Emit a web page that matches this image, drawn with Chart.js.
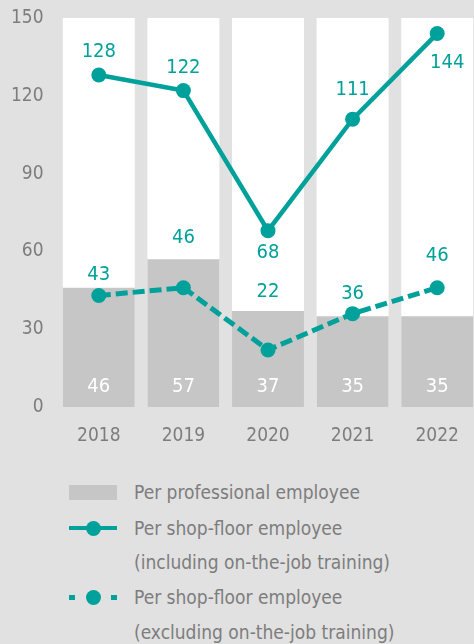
<!DOCTYPE html>
<html>
<head>
<meta charset="utf-8">
<script src="https://cdn.jsdelivr.net/npm/chart.js@4/dist/chart.umd.min.js"></script>
<style>
  html, body { margin: 0; padding: 0; background: #e1e1e1; width: 474px; height: 644px; overflow: hidden; }
  #wrap { position: relative; width: 474px; height: 644px; overflow: hidden; }
  #c { position: absolute; left: 0; top: 0; }
  .lg { position: absolute; left: 0; top: 0; font-family: "DejaVu Sans Condensed", "DejaVu Sans", sans-serif; font-stretch: condensed; font-size: 19px; color: #7d7d7d; }
  .row { position: absolute; left: 134px; height: 24px; line-height: 24px; white-space: nowrap; }
  .ico { position: absolute; }
</style>
</head>
<body>
<div id="wrap">
  <canvas id="c" width="487" height="447"></canvas>
  <div class="lg" id="legend"></div>
</div>
<script>
const categories = ["2018", "2019", "2020", "2021", "2022"];
const perProfessional = [46, 57, 37, 35, 35];
const perShopFloorIncl = [128, 122, 68, 111, 144];
const perShopFloorExcl = [43, 46, 22, 36, 46];
const yTicks = [0, 30, 60, 90, 120, 150];
const seriesNames = [
  "Per professional employee",
  ["Per shop-floor employee", "(including on-the-job training)"],
  ["Per shop-floor employee", "(excluding on-the-job training)"]
];

// label placement (pixel offsets from the point, style only)
const inclLabelOffsets = [[0, -23], [0, -23], [0, 22], [0, -29], [10, 29]];
const exclLabelOffsets = [[0, -21], [0, -50], [0, -58], [0, -20], [0, -32]];

const TEAL = "#00a19a";
const BAR = "#c6c6c6";
const TXT = "#7d7d7d";
const FONT = '"DejaVu Sans Condensed", "DejaVu Sans", sans-serif';

const bandPlugin = {
  id: "bands",
  beforeDatasetsDraw(chart) {
    const ctx = chart.ctx;
    const meta = chart.getDatasetMeta(0);
    const area = chart.chartArea;
    const yTop = chart.scales.y.getPixelForValue(150);
    ctx.save();
    ctx.fillStyle = "#ffffff";
    meta.data.forEach(bar => {
      const w = bar.width;
      ctx.fillRect(bar.x - w / 2, yTop, w, area.bottom - yTop);
    });
    ctx.restore();
  }
};

const labelPlugin = {
  id: "valueLabels",
  afterDatasetsDraw(chart) {
    const ctx = chart.ctx;
    ctx.save();
    ctx.textAlign = "center";
    ctx.textBaseline = "middle";
    ctx.font = "20px " + FONT;
    const base = chart.scales.y.getPixelForValue(0);
    chart.getDatasetMeta(0).data.forEach((el, i) => {
      ctx.fillStyle = "#ffffff";
      ctx.fillText(String(perProfessional[i]), el.x, base - 20);
    });
    const draw = (dsIndex, values, offsets) => {
      chart.getDatasetMeta(dsIndex).data.forEach((el, i) => {
        ctx.fillStyle = TEAL;
        ctx.fillText(String(values[i]), el.x + offsets[i][0], el.y + offsets[i][1]);
      });
    };
    draw(1, perShopFloorIncl, inclLabelOffsets);
    draw(2, perShopFloorExcl, exclLabelOffsets);
    ctx.restore();
  }
};

function noPad(scale) {
  scale.paddingTop = 0; scale.paddingBottom = 0;
  scale.paddingLeft = 0; scale.paddingRight = 0;
}

new Chart(document.getElementById("c"), {
  data: {
    labels: categories,
    datasets: [
      {
        type: "bar",
        label: seriesNames[0],
        data: perProfessional,
        backgroundColor: BAR,
        borderWidth: 0,
        categoryPercentage: 1,
        barPercentage: 0.85,
        order: 2
      },
      {
        type: "line",
        label: seriesNames[1].join(" "),
        data: perShopFloorIncl,
        borderColor: TEAL,
        backgroundColor: TEAL,
        borderWidth: 4.5,
        pointRadius: 7.5,
        pointHoverRadius: 7.5,
        pointBorderWidth: 0,
        tension: 0,
        order: 0
      },
      {
        type: "line",
        label: seriesNames[2].join(" "),
        data: perShopFloorExcl,
        borderColor: TEAL,
        backgroundColor: TEAL,
        borderWidth: 5,
        borderDash: [12, 5],
        pointRadius: 7.5,
        pointHoverRadius: 7.5,
        pointBorderWidth: 0,
        tension: 0,
        order: 1
      }
    ]
  },
  options: {
    responsive: false,
    animation: false,
    layout: { padding: { top: 18, right: 0, bottom: 0, left: 0 } },
    plugins: { legend: { display: false }, tooltip: { enabled: false } },
    scales: {
      x: {
        afterFit(scale) { scale.height = 40; noPad(scale); },
        grid: { display: false, drawTicks: false },
        border: { display: false },
        ticks: { color: TXT, font: { family: FONT, size: 19 }, padding: 18 }
      },
      y: {
        min: 0,
        max: 150,
        afterFit(scale) { scale.width = 56.5; noPad(scale); },
        afterBuildTicks(scale) { scale.ticks = yTicks.map(v => ({ value: v })); },
        grid: { display: false, drawTicks: false },
        border: { display: false },
        ticks: { color: TXT, font: { family: FONT, size: 19 }, padding: 13 }
      }
    }
  },
  plugins: [bandPlugin, labelPlugin]
});

// HTML legend
(function () {
  const lg = document.getElementById("legend");
  const rowsY = [492, 528, 562, 597, 632];
  let html = "";
  html += '<div class="ico" style="left:69px;top:' + (rowsY[0] - 7.5) + 'px;width:48px;height:15px;background:' + BAR + '"></div>';
  html += '<div class="row" style="top:' + (rowsY[0] - 12) + 'px">' + seriesNames[0] + '</div>';
  html += '<div class="ico" style="left:69px;top:' + (rowsY[1] - 2.25) + 'px;width:48px;height:4.5px;background:' + TEAL + '"></div>';
  html += '<div class="ico" style="left:85.5px;top:' + (rowsY[1] - 7.5) + 'px;width:15px;height:15px;border-radius:50%;background:' + TEAL + '"></div>';
  html += '<div class="row" style="top:' + (rowsY[1] - 12) + 'px">' + seriesNames[1][0] + '</div>';
  html += '<div class="row" style="top:' + (rowsY[2] - 12) + 'px">' + seriesNames[1][1] + '</div>';
  html += '<div class="ico" style="left:69px;top:' + (rowsY[3] - 2.5) + 'px;width:6px;height:5px;background:' + TEAL + '"></div>';
  html += '<div class="ico" style="left:111px;top:' + (rowsY[3] - 2.5) + 'px;width:6px;height:5px;background:' + TEAL + '"></div>';
  html += '<div class="ico" style="left:85.5px;top:' + (rowsY[3] - 7.5) + 'px;width:15px;height:15px;border-radius:50%;background:' + TEAL + '"></div>';
  html += '<div class="row" style="top:' + (rowsY[3] - 12) + 'px">' + seriesNames[2][0] + '</div>';
  html += '<div class="row" style="top:' + (rowsY[4] - 12) + 'px">' + seriesNames[2][1] + '</div>';
  lg.innerHTML = html;
})();
</script>
</body>
</html>
